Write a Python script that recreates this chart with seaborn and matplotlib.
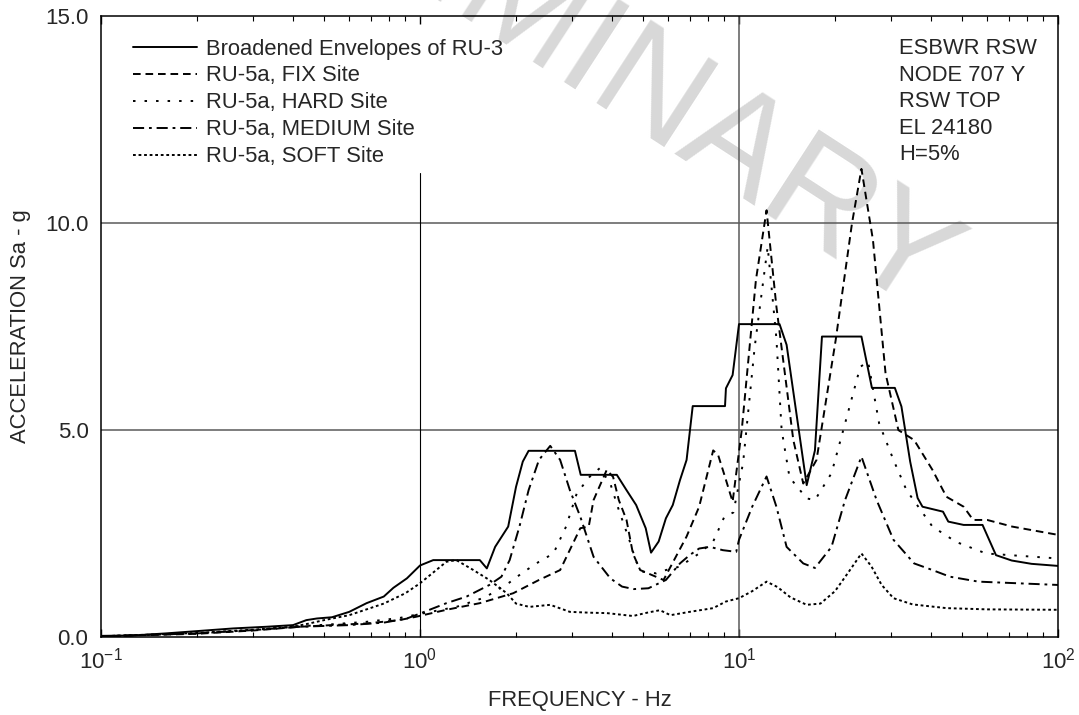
import numpy as np
import pandas as pd
import matplotlib.pyplot as plt
import seaborn as sns
from matplotlib.ticker import NullFormatter

# ---- data (frequency Hz, acceleration g) ----
series_names = ["Broadened Envelopes of RU-3", "RU-5a, FIX Site", "RU-5a, HARD Site",
                "RU-5a, MEDIUM Site", "RU-5a, SOFT Site"]

freq_env = [0.1, 0.126, 0.16, 0.204, 0.26, 0.33, 0.4, 0.44, 0.475, 0.53,
            0.6, 0.68, 0.77, 0.825, 0.91, 1.0, 1.1, 1.54, 1.62, 1.72,
            1.89, 2.0, 2.1, 2.19, 3.06, 3.19, 4.14, 4.44, 4.76, 5.1,
            5.3, 5.6, 5.9, 6.2, 6.53, 6.85, 7.16, 9.04, 9.1, 9.55,
            10.0, 13.4, 14.1, 16.3, 17.3, 18.2, 24.2, 26.1, 30.8, 32.3,
            34.4, 36.3, 37.6, 43.6, 45.3, 50.6, 58.0, 63.9, 71.6, 82.6, 100]
acc_env = [0.02, 0.03, 0.08, 0.14, 0.2, 0.24, 0.28, 0.40, 0.44, 0.47,
           0.6, 0.81, 0.97, 1.18, 1.41, 1.72, 1.85, 1.85, 1.65, 2.17,
           2.66, 3.62, 4.23, 4.49, 4.49, 3.91, 3.91, 3.54, 3.18, 2.62,
           2.03, 2.30, 2.86, 3.18, 3.78, 4.27, 5.57, 5.57, 6.0, 6.32,
           7.55, 7.55, 7.05, 3.66, 4.5, 7.25, 7.25, 6.01, 6.01, 5.56,
           4.23, 3.35, 3.14, 3.02, 2.78, 2.70, 2.70, 1.97, 1.84, 1.76, 1.71]

freq_fix = [0.1, 0.2, 0.3, 0.42, 0.53, 0.68, 0.86, 0.97, 1.21, 1.54,
            1.96, 2.36, 2.75, 3.18, 3.38, 3.5, 3.85, 4.03, 4.2, 4.44,
            4.65, 4.9, 5.8, 6.85, 7.5, 8.3, 8.6, 9.04, 9.55, 10.2,
            11.3, 12.2, 13.1, 14.8, 15.9, 17.5, 20.1, 22.6, 24.2, 26.3,
            28.8, 31.6, 35.4, 40.4, 44.7, 50.6, 54.2, 60, 71.8, 100]
acc_fix = [0.01, 0.07, 0.15, 0.24, 0.28, 0.32, 0.40, 0.48, 0.65, 0.81,
           1.05, 1.37, 1.61, 2.62, 2.66, 3.3, 4.03, 3.86, 3.3, 2.82,
           2.01, 1.61, 1.37, 2.42, 3.14, 4.5, 4.39, 3.86, 3.26, 4.99,
           8.62, 10.3, 7.97, 4.75, 3.7, 4.27, 7.17, 9.98, 11.3, 9.58,
           6.36, 4.99, 4.75, 4.03, 3.38, 3.14, 2.82, 2.82, 2.66, 2.46]

freq_hard = [0.1, 0.2, 0.3, 0.42, 0.53, 0.68, 0.86, 1.0, 1.3, 1.6,
             1.9, 2.1, 2.36, 2.62, 2.87, 3.1, 3.4, 3.66, 3.95, 4.2,
             4.53, 4.76, 5.0, 5.5, 5.9, 6.5, 7.5, 8.3, 9.0, 9.6,
             10.3, 11.2, 12.3, 13.1, 13.6, 14.4, 16.3, 17.3, 19.5, 21.5,
             24.0, 25.4, 27.5, 30.5, 33.5, 40.4, 47.9, 59.5, 100]
acc_hard = [0.01, 0.08, 0.16, 0.25, 0.30, 0.36, 0.45, 0.55, 0.72, 0.95,
            1.3, 1.55, 1.81, 2.01, 2.66, 3.46, 3.86, 4.07, 3.7, 3.06,
            2.34, 1.81, 1.57, 1.53, 1.61, 1.69, 2.01, 2.3, 2.9, 3.0,
            4.2, 7.0, 9.42, 7.2, 5.0, 3.85, 3.34, 3.3, 3.95, 5.15,
            6.52, 6.64, 5.15, 4.27, 3.54, 2.66, 2.29, 2.01, 1.89]

freq_med = [0.1, 0.2, 0.3, 0.42, 0.6, 0.77, 0.91, 1.0, 1.21, 1.4,
            1.65, 1.8, 1.91, 2.05, 2.19, 2.36, 2.56, 2.75, 2.95, 3.18,
            3.5, 3.95, 4.3, 4.68, 5.2, 5.9, 6.53, 7.0, 7.5, 8.1,
            8.9, 9.8, 10.0, 11.0, 12.2, 13.1, 14.1, 15.9, 17.3, 19.5,
            21.5, 24.2, 27.0, 30.5, 35.4, 40.4, 45.8, 56.3, 100]
acc_med = [0.01, 0.08, 0.16, 0.24, 0.28, 0.34, 0.44, 0.56, 0.81, 0.97,
           1.25, 1.45, 1.85, 2.66, 3.54, 4.27, 4.61, 4.27, 3.54, 2.9,
           1.93, 1.41, 1.21, 1.15, 1.17, 1.37, 1.77, 1.97, 2.13, 2.17,
           2.09, 2.05, 2.34, 3.14, 3.87, 3.14, 2.17, 1.77, 1.66, 2.17,
           3.3, 4.35, 3.3, 2.34, 1.77, 1.61, 1.45, 1.33, 1.25]

freq_soft = [0.1, 0.2, 0.3, 0.4, 0.45, 0.5, 0.6, 0.77, 0.9, 1.0,
             1.1, 1.21, 1.3, 1.47, 1.65, 1.87, 2.0, 2.2, 2.56, 2.95,
             3.4, 3.85, 4.65, 5.15, 5.65, 6.1, 7.0, 8.3, 9.1, 10.0,
             11.0, 12.2, 13.2, 14.5, 16.3, 18.0, 20.0, 22.0, 24.2, 26.0,
             28.0, 30.5, 35.0, 44.7, 60.0, 100]
acc_soft = [0.01, 0.09, 0.17, 0.24, 0.32, 0.40, 0.52, 0.8, 1.05, 1.29,
            1.55, 1.81, 1.85, 1.61, 1.37, 1.05, 0.8, 0.72, 0.77, 0.6,
            0.58, 0.57, 0.5, 0.58, 0.64, 0.52, 0.6, 0.69, 0.85, 0.93,
            1.1, 1.33, 1.2, 0.95, 0.77, 0.8, 1.1, 1.55, 2.01, 1.7,
            1.25, 0.93, 0.78, 0.69, 0.66, 0.65]

info_lines = ["ESBWR RSW", "NODE 707 Y", "RSW TOP", "EL 24180", "H=5%"]

# ---- style ----
sns.set_style("ticks")
plt.rcParams['font.family'] = ['Liberation Sans', 'DejaVu Sans']
plt.rcParams['mathtext.fontset'] = 'custom'
plt.rcParams['mathtext.rm'] = 'Liberation Sans'
plt.rcParams['mathtext.it'] = 'Liberation Sans:italic'
plt.rcParams['mathtext.bf'] = 'Liberation Sans:bold'
plt.rcParams['lines.scale_dashes'] = False
fs = 15.8

# long-form table for seaborn
frames = []
for name, f, a in zip(series_names,
                      [freq_env, freq_fix, freq_hard, freq_med, freq_soft],
                      [acc_env, acc_fix, acc_hard, acc_med, acc_soft]):
    frames.append(pd.DataFrame({'freq': f, 'acc': a, 'series': name}))
df = pd.concat(frames, ignore_index=True)

dash_map = {series_names[0]: "",
            series_names[1]: (5.5, 3.5),
            series_names[2]: (1.8, 6.5),
            series_names[3]: (8, 3.5, 2, 3.5),
            series_names[4]: (2, 2)}

fig = plt.figure(figsize=(10.79, 7.15), dpi=100)
W, H = 1079, 715
x0, x1, y0, y1 = 101, 1058, 15.7, 636.7
ax = fig.add_axes([x0 / W, 1 - y1 / H, (x1 - x0) / W, (y1 - y0) / H])
ax.set_xscale('log')

sns.lineplot(data=df, x='freq', y='acc', style='series', style_order=series_names,
             dashes=dash_map, color='black', linewidth=1.4, estimator=None,
             sort=False, legend=False, ax=ax, zorder=3)
handles = list(ax.lines[:5])

ax.set_xlim(0.1, 100)
ax.set_ylim(0, 15)

# grid lines as drawn in the original
ax.axhline(5, color='#5a5a5a', lw=1.1, zorder=1)
ax.axhline(10, color='#5a5a5a', lw=1.1, zorder=1)
ax.axvline(10, color='#5a5a5a', lw=1.1, zorder=1)
ax.axvline(1, ymax=11.2 / 15, color='black', lw=0.8, zorder=1)

ax.set_xticks([0.1, 1, 10, 100])
ax.set_xticklabels(['$10^{-1}$', '$10^{0}$', '$10^{1}$', '$10^{2}$'])
ax.xaxis.set_minor_formatter(NullFormatter())
ax.set_yticks([0, 5, 10, 15])
ax.set_yticklabels(['0.0', '5.0', '10.0', '15.0'])
ax.tick_params(axis='x', which='both', direction='in', top=True, bottom=True,
               labelsize=16, pad=8, color='black')
ax.tick_params(axis='x', which='major', length=6, width=1)
ax.tick_params(axis='x', which='minor', length=3.6, width=0.8)
ax.tick_params(axis='y', which='both', length=0, labelsize=16, pad=9)
for sp in ax.spines.values():
    sp.set_visible(True)
    sp.set_color('black')
    sp.set_linewidth(1.1)

ax.set_xlabel('FREQUENCY - Hz', fontsize=fs, va='top')
ax.xaxis.set_label_coords(0.5, -(690 - y1) / (y1 - y0))
ax.set_ylabel('ACCELERATION Sa - g', fontsize=fs)
ax.yaxis.set_label_coords((31 - x0) / (x1 - x0), 0.5)

ax.legend(handles, series_names, loc='upper left', frameon=False, fontsize=fs,
          bbox_to_anchor=((133 - x0) / (x1 - x0), 1 - (38.5 - y0) / (y1 - y0)),
          borderaxespad=0, borderpad=0, handlelength=2.92, handletextpad=0.41,
          labelspacing=0.27)

baselines = [54.3, 80.7, 107.3, 134, 160.3]
for txt, b in zip(info_lines, baselines):
    ax.text((899 - x0) / (x1 - x0), 1 - (b - y0) / (y1 - y0), txt, fontsize=fs,
            va='baseline', ha='left', transform=ax.transAxes)

# faint watermark, partly running off the top edge as in the original
ax.text(530 / W, 1 - 22 / H, 'PRELIMINARY', transform=fig.transFigure,
        fontsize=104, color='#d8d8d8', rotation=-33, ha='center', va='center',
        rotation_mode='anchor', clip_on=False, zorder=0.5)

fig.savefig('out.png', dpi=100)
